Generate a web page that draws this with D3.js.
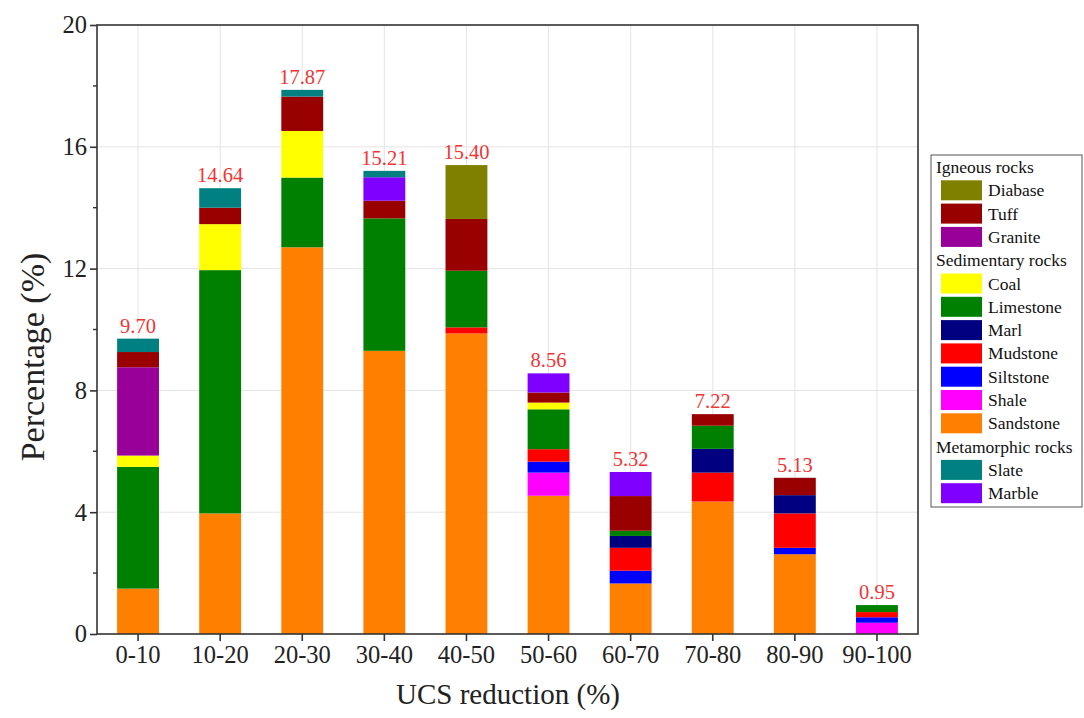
<!DOCTYPE html>
<html>
<head>
<meta charset="utf-8">
<script src="https://cdn.jsdelivr.net/npm/d3@7"></script>
<style>
  html, body { margin: 0; padding: 0; background: #fff; }
  svg { display: block; font-family: "Liberation Serif", "Times New Roman", serif; }
</style>
</head>
<body>
<svg id="chart" width="1084" height="718"></svg>
<script>
// UCS reduction bins
const categories = ["0-10", "10-20", "20-30", "30-40", "40-50", "50-60", "60-70", "70-80", "80-90", "90-100"];

// Percentage of samples per rock type in each bin
const sandstone = [1.49, 3.96, 12.70, 9.30, 9.87, 4.54, 1.66, 4.35, 2.62, 0];
const shale     = [0, 0, 0, 0, 0, 0.76, 0, 0, 0, 0.37];
const siltstone = [0, 0, 0, 0, 0, 0.36, 0.42, 0, 0.21, 0.18];
const mudstone  = [0, 0, 0, 0, 0.20, 0.41, 0.75, 0.95, 1.13, 0.17];
const marl      = [0, 0, 0, 0, 0, 0, 0.39, 0.78, 0.60, 0];
const limestone = [4.00, 7.99, 2.29, 4.35, 1.86, 1.31, 0.17, 0.76, 0, 0.23];
const coal      = [0.37, 1.51, 1.53, 0, 0, 0.22, 0, 0, 0, 0];
const granite   = [2.90, 0, 0, 0, 0, 0, 0, 0, 0, 0];
const tuff      = [0.50, 0.54, 1.13, 0.58, 1.70, 0.33, 1.14, 0.38, 0.57, 0];
const diabase   = [0, 0, 0, 0, 1.77, 0, 0, 0, 0, 0];
const marble    = [0, 0, 0, 0.77, 0, 0.63, 0.79, 0, 0, 0];
const slate     = [0.44, 0.64, 0.22, 0.21, 0, 0, 0, 0, 0, 0];

// Totals printed above the bars
const totals = [9.70, 14.64, 17.87, 15.21, 15.40, 8.56, 5.32, 7.22, 5.13, 0.95];

const yTicks = [0, 4, 8, 12, 16, 20];

// Stacking order (bottom to top) with colours
const seriesList = [
  { name: "Sandstone", values: sandstone, color: "#ff8000" },
  { name: "Shale",     values: shale,     color: "#ff00ff" },
  { name: "Siltstone", values: siltstone, color: "#0000ff" },
  { name: "Mudstone",  values: mudstone,  color: "#ff0000" },
  { name: "Marl",      values: marl,      color: "#000080" },
  { name: "Limestone", values: limestone, color: "#008000" },
  { name: "Coal",      values: coal,      color: "#ffff00" },
  { name: "Granite",   values: granite,   color: "#990099" },
  { name: "Tuff",      values: tuff,      color: "#990000" },
  { name: "Diabase",   values: diabase,   color: "#808000" },
  { name: "Marble",    values: marble,    color: "#8000ff" },
  { name: "Slate",     values: slate,     color: "#008080" }
];
const colorOf = Object.fromEntries(seriesList.map(s => [s.name, s.color]));

// Legend groups
const legendGroups = [
  { title: "Igneous rocks", items: ["Diabase", "Tuff", "Granite"] },
  { title: "Sedimentary rocks", items: ["Coal", "Limestone", "Marl", "Mudstone", "Siltstone", "Shale", "Sandstone"] },
  { title: "Metamorphic rocks", items: ["Slate", "Marble"] }
];

const FONT = "Liberation Serif, Times New Roman, serif";
const svg = d3.select("#chart");
const m = { left: 97, right: 918, top: 25, bottom: 634 };

const x = d3.scaleBand().domain(categories).range([m.left, m.right]).paddingInner(0.49).paddingOuter(0.245);
const y = d3.scaleLinear().domain([0, 20]).range([m.bottom, m.top]);

// Table for stacking
const table = categories.map((c, i) => {
  const row = { cat: c };
  seriesList.forEach(s => { row[s.name] = s.values[i]; });
  return row;
});
const stacked = d3.stack().keys(seriesList.map(s => s.name))(table);

// Grid
const grid = svg.append("g");
grid.selectAll("line.h").data([4, 8, 12, 16]).join("line")
  .attr("x1", m.left).attr("x2", m.right)
  .attr("y1", d => y(d)).attr("y2", d => y(d))
  .attr("stroke", "#e4e4e4").attr("stroke-width", 1);
grid.selectAll("line.v").data(categories).join("line")
  .attr("x1", d => x(d) + x.bandwidth() / 2).attr("x2", d => x(d) + x.bandwidth() / 2)
  .attr("y1", m.top).attr("y2", m.bottom)
  .attr("stroke", "#e4e4e4").attr("stroke-width", 1);

// Bars
svg.append("g").selectAll("g").data(stacked).join("g")
  .attr("fill", d => colorOf[d.key])
  .selectAll("rect").data(d => d.filter(p => p[1] - p[0] > 0)).join("rect")
  .attr("x", d => x(d.data.cat))
  .attr("width", x.bandwidth())
  .attr("y", d => y(d[1]))
  .attr("height", d => y(d[0]) - y(d[1]));

// Total labels
svg.append("g").selectAll("text").data(categories).join("text")
  .attr("x", d => x(d) + x.bandwidth() / 2)
  .attr("y", (d, i) => y(totals[i]) - 6)
  .attr("text-anchor", "middle")
  .attr("font-size", 20.5)
  .attr("fill", "#f03535")
  .text((d, i) => totals[i].toFixed(2));

// Frame
svg.append("rect")
  .attr("x", m.left).attr("y", m.top)
  .attr("width", m.right - m.left).attr("height", m.bottom - m.top)
  .attr("fill", "none").attr("stroke", "#333").attr("stroke-width", 1.6);

// Y axis
const yAxis = svg.append("g").attr("transform", `translate(${m.left},0)`)
  .call(d3.axisLeft(y).tickValues(yTicks).tickSize(7).tickPadding(3).tickFormat(d3.format("d")));
yAxis.select(".domain").remove();
yAxis.selectAll(".tick line").attr("stroke", "#333").attr("stroke-width", 1.6);
yAxis.selectAll(".tick text").attr("font-size", 24.5).attr("fill", "#222").attr("font-family", FONT);
svg.append("g").selectAll("line").data([2, 6, 10, 14, 18]).join("line")
  .attr("x1", m.left - 4).attr("x2", m.left)
  .attr("y1", d => y(d)).attr("y2", d => y(d))
  .attr("stroke", "#333").attr("stroke-width", 1.4);

// X axis
const xAxis = svg.append("g").attr("transform", `translate(0,${m.bottom})`)
  .call(d3.axisBottom(x).tickSize(7).tickPadding(5));
xAxis.select(".domain").remove();
xAxis.selectAll(".tick line").attr("stroke", "#333").attr("stroke-width", 1.6);
xAxis.selectAll(".tick text").attr("font-size", 24.5).attr("fill", "#222").attr("font-family", FONT);

// Axis titles
svg.append("text")
  .attr("x", 508).attr("y", 704)
  .attr("text-anchor", "middle").attr("font-size", 29).attr("fill", "#222")
  .text("UCS reduction (%)");
svg.append("text")
  .attr("transform", "translate(44,357) rotate(-90)")
  .attr("text-anchor", "middle").attr("font-size", 34).attr("fill", "#222")
  .text("Percentage (%)");

// Legend
const lg = svg.append("g");
lg.append("rect")
  .attr("x", 931).attr("y", 155).attr("width", 151).attr("height", 352)
  .attr("fill", "#fff").attr("stroke", "#555").attr("stroke-width", 1);
let rowY = 167;
const rowStep = 23.3;
legendGroups.forEach(g => {
  lg.append("text").attr("x", 936).attr("y", rowY + 6)
    .attr("font-size", 17.5).attr("fill", "#111").text(g.title);
  rowY += rowStep;
  g.items.forEach(name => {
    lg.append("rect").attr("x", 941).attr("y", rowY - 10)
      .attr("width", 41).attr("height", 20).attr("fill", colorOf[name]);
    lg.append("text").attr("x", 988).attr("y", rowY + 6)
      .attr("font-size", 17.5).attr("fill", "#111").text(name);
    rowY += rowStep;
  });
});
</script>
</body>
</html>
